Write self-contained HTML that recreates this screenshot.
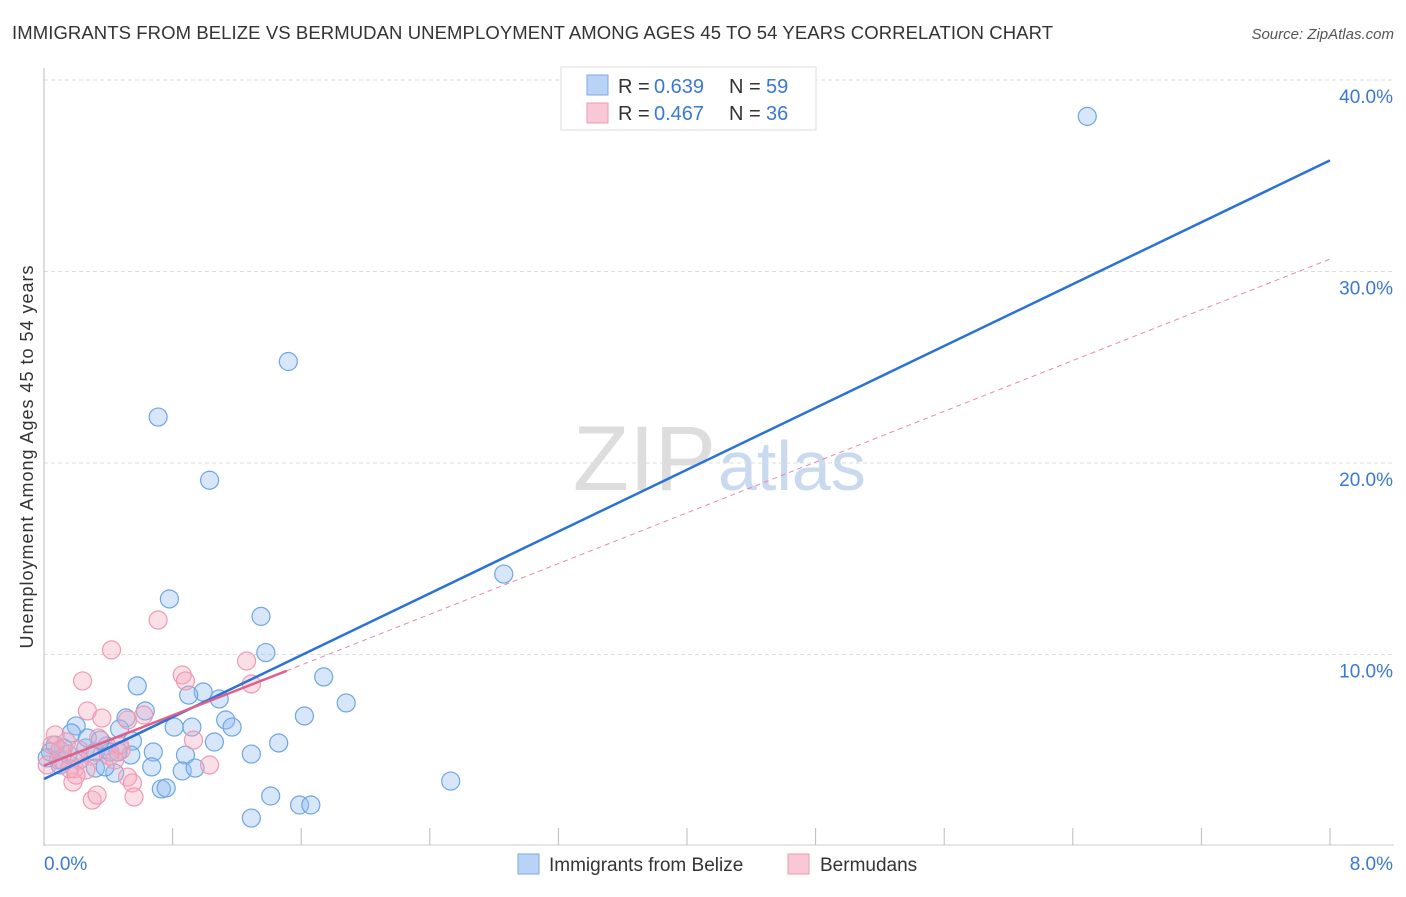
<!DOCTYPE html>
<html><head><meta charset="utf-8"><style>
body{margin:0;background:#fff;font-family:"Liberation Sans",sans-serif}
svg text{font-family:"Liberation Sans",sans-serif}
</style></head><body>
<svg width="1406" height="892">
<text x="12" y="39" font-size="18.5" fill="#333" textLength="1041">IMMIGRANTS FROM BELIZE VS BERMUDAN UNEMPLOYMENT AMONG AGES 45 TO 54 YEARS CORRELATION CHART</text>
<text x="1394" y="39" font-size="15" fill="#555" font-style="italic" text-anchor="end">Source: ZipAtlas.com</text>
<text x="33" y="457" font-size="18" fill="#333" text-anchor="middle" textLength="383" transform="rotate(-90 33 457)">Unemployment Among Ages 45 to 54 years</text>
<text x="716" y="490" font-size="92" fill="#ddd" text-anchor="end" font-family="Liberation Serif">ZIP</text>
<text x="718" y="490" font-size="70" fill="#c9d9f0">atlas</text>
<g id="grid"></g><g id="axes"></g><g id="pts"></g><g id="lines"></g>
<g>
<rect x="561" y="67" width="255" height="63" fill="#fff" stroke="#ddd"/>
<rect x="587" y="75" width="21" height="20" fill="#b8d3f5" stroke="#7aaae6"/>
<rect x="587" y="103" width="21" height="20" fill="#f8c8d6" stroke="#ec9ab2"/>
<text x="618" y="93" font-size="20" fill="#333">R =</text>
<text x="654" y="93" font-size="20" fill="#3a78d6">0.639</text>
<text x="729" y="93" font-size="20" fill="#333">N =</text>
<text x="766" y="93" font-size="20" fill="#3a78d6">59</text>
<text x="618" y="120" font-size="20" fill="#333">R =</text>
<text x="654" y="120" font-size="20" fill="#3a78d6">0.467</text>
<text x="729" y="120" font-size="20" fill="#333">N =</text>
<text x="766" y="120" font-size="20" fill="#3a78d6">36</text>
</g>
<g>
<rect x="518" y="854" width="21" height="20" fill="#b8d3f5" stroke="#7aaae6"/>
<text x="549" y="871" font-size="19" fill="#333">Immigrants from Belize</text>
<rect x="788" y="854" width="21" height="20" fill="#f8c8d6" stroke="#ec9ab2"/>
<text x="820" y="871" font-size="19" fill="#333">Bermudans</text>
</g>
</svg>
<script>
const yTicks=[10,20,30,40];
const yTickLabels=["10.0%","20.0%","30.0%","40.0%"];
const xTickLabels=["0.0%","8.0%"];
const belizeX=[6.49,1.52,0.71,1.03,2.86,0.78,1.35,1.38,0.58,1.74,1.88,0.99,0.90,1.09,1.62,0.63,0.51,1.13,1.17,0.81,0.92,0.20,0.47,1.06,1.46,0.55,0.39,0.68,1.29,0.88,0.54,0.26,0.32,0.12,0.04,0.09,0.15,0.41,0.46,0.67,0.32,0.86,0.94,0.44,0.38,2.53,0.73,0.76,1.41,1.59,1.66,1.29,0.17,0.07,0.10,0.22,0.27,0.35,0.02];
const belizeY=[38.1,25.3,22.4,19.1,14.2,12.9,11.99,10.1,8.36,8.83,7.47,8.04,7.88,7.68,6.79,7.05,6.69,6.58,6.21,6.21,6.21,6.27,6.11,5.43,5.38,5.48,5.22,4.91,4.80,4.75,4.75,5.12,4.91,5.12,4.91,4.49,4.80,4.91,4.91,4.13,4.07,3.92,4.07,3.81,4.13,3.39,2.98,3.03,2.61,2.14,2.14,1.46,5.90,5.27,4.23,4.49,5.64,5.53,4.60];
const bermX=[0.42,0.71,0.24,1.26,0.86,0.88,1.29,0.27,0.36,0.52,0.62,0.34,0.48,0.41,0.93,1.03,0.52,0.55,0.18,0.30,0.33,0.56,0.19,0.11,0.05,0.07,0.14,0.22,0.29,0.16,0.02,0.44,0.10,0.26,0.47,0.20];
const bermY=[10.24,11.8,8.62,9.66,8.93,8.62,8.46,7.05,6.68,6.58,6.84,5.64,5.01,4.70,5.53,4.23,3.60,3.29,3.34,2.40,2.66,2.56,4.03,4.49,5.27,5.80,5.43,5.01,4.70,4.03,4.23,4.49,5.01,3.97,5.27,3.70];
const blueLine=[[0,3.5],[8,35.8]];
const pinkSolid=[[0,4.2],[1.51,9.15]];
const pinkDash=[[1.51,9.15],[8,30.65]];
const NS="http://www.w3.org/2000/svg";
const X=v=>44+v*160.75, Y=v=>846-v*19.15;
function mk(t,a,p){const e=document.createElementNS(NS,t);for(const k in a)e.setAttribute(k,a[k]);document.getElementById(p).appendChild(e);return e;}
yTicks.forEach((t,i)=>{
 const g=mk('line',{x1:44,x2:1394,y1:Y(t),y2:Y(t),stroke:'#ddd','stroke-dasharray':'4,3'},'grid');
 
 
 const l=mk('text',{x:1393,y:Y(t)+23,'font-size':19,fill:'#3a78d6','text-anchor':'end'},'grid');
 l.textContent=yTickLabels[i];
 
 
});
const ax=mk('line',{x1:44,x2:44,y1:68,y2:846,stroke:'#bbb'},'axes');


const bx=mk('line',{x1:44,x2:1394,y1:845,y2:845,stroke:'#ccc'},'axes');


for(let i=0;i<=10;i++){
 const t=mk('line',{x1:X(i*0.8),x2:X(i*0.8),y1:828,y2:845,stroke:'#bbb'},'axes');
 
 
}
[[0,'start',44],[8,'end',1393]].forEach((d,i)=>{
 const l=mk('text',{x:d[2],y:870,'font-size':19,fill:'#3a78d6','text-anchor':d[1]},'axes');
 l.textContent=xTickLabels[i];
 
 
});
function dots(xs,ys,fill,stroke,name){xs.forEach((x,i)=>{
 const c=mk('circle',{cx:X(x),cy:Y(ys[i]),r:9,fill:fill,stroke:stroke,'stroke-width':1.2},'pts');
 
 
});}
dots(belizeX,belizeY,'rgba(150,190,240,0.38)','#6ea6e4','belize-point');
dots(bermX,bermY,'rgba(245,170,192,0.38)','#ee9ab3','bermudan-point');
function ln(p,st,w,dash,name){const e=mk('line',{x1:X(p[0][0]),y1:Y(p[0][1]),x2:X(p[1][0]),y2:Y(p[1][1]),stroke:st,'stroke-width':w},'lines');if(dash)e.setAttribute('stroke-dasharray',dash);
 
 }
ln(pinkDash,'#e88aa8',1,'5,4','bermudan-trend-extension');
ln(blueLine,'#2a72d8',2.5,null,'belize-trend-line');
ln(pinkSolid,'#e0608a',2.5,null,'bermudan-trend-line');
</script>
</body></html>
